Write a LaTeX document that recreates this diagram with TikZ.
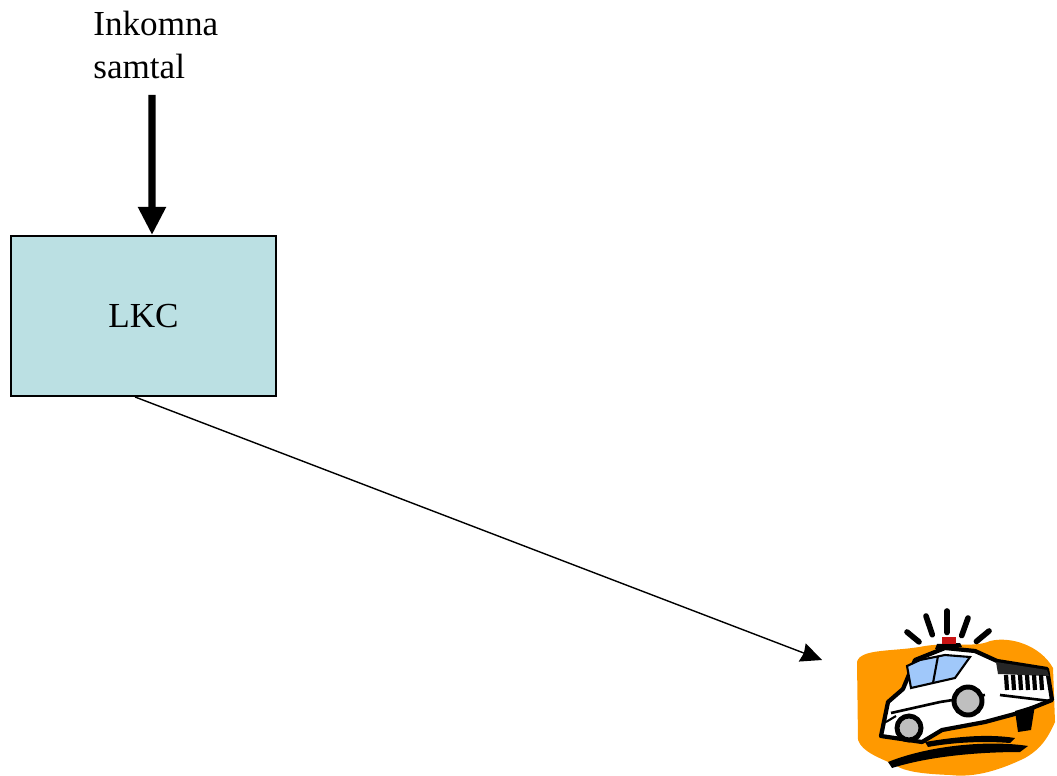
\documentclass[tikz,border=0pt]{standalone}
\usepackage{fontspec}
\setmainfont{Liberation Serif}
\usetikzlibrary{arrows.meta}
\definecolor{boxBlue}{RGB}{187,224,227}
\definecolor{blobOrange}{RGB}{255,153,0}
\definecolor{glassBlue}{RGB}{160,200,250}
\definecolor{sirenRed}{RGB}{200,20,20}

\begin{document}
\begin{tikzpicture}[
  x=0.02cm, y=-0.02cm,
  every node/.style={font=\fontsize{20}{24.4}\selectfont},
  box/.style={draw, line width=1.1pt, fill=boxBlue, minimum width=265*0.02cm,
              minimum height=160*0.02cm, inner sep=0pt},
  callarrow/.style={line width=4pt, -{Triangle[width=15pt,length=16pt]}},
  sendarrow/.style={line width=0.8pt, -{Stealth[length=12pt,width=11pt,inset=1pt]}},
  ink/.style={fill=black},
  ray/.style={line width=3.2pt, line cap=round},
]
  \useasboundingbox (0,0) rectangle (1057,776);

  \node[anchor=north west, align=left, inner sep=0pt] (calls) at (93,11)
    {Inkomna\\samtal};
  \coordinate (callin) at (152,95);
  \node[box] (lkc) at (143.5,316) {LKC};
  \coordinate (car) at (822,660);

  \draw[callarrow] (callin) -- ([xshift=8.5*0.02cm]lkc.north);
  \draw[sendarrow] ([xshift=-8.5*0.02cm]lkc.south) -- (car);

  % police car clipart
  \fill[blobOrange] (857,662) .. controls (860,648) and (895,652) .. (925,646)
    .. controls (950,642) and (975,648) .. (990,641)
    .. controls (1010,636) and (1040,645) .. (1053,668)
    -- (1055,722) .. controls (1045,745) and (1035,752) .. (1025,758)
    .. controls (1000,770) and (975,778) .. (950,775)
    .. controls (925,774) and (905,772) .. (895,765)
    .. controls (880,758) and (862,752) .. (858,740) -- cycle;
  \foreach \a/\b in {907/632, 926/616, 947/611, 968/618, 989/631}{
    \draw[ray] (\a,\b) -- ++({(947-\a)*0.3},{(650-\b)*0.55});
  }
  % shadow
  \fill[ink] (888,762) .. controls (930,745) and (990,740) .. (1028,746)
    -- (1020,752) .. controls (980,752) and (930,756) .. (892,768) -- cycle;
  \fill[ink] (925,742) .. controls (960,736) and (990,734) .. (1015,738)
    -- (1010,743) .. controls (985,741) and (955,742) .. (928,747) -- cycle;
  % body
  \filldraw[fill=white, line width=2.4pt, line join=round]
    (881,736) -- (888,702) -- (903,689) -- (915,660) -- (945,648)
    -- (975,651) -- (997,661) -- (1047,669) -- (1052,700)
    -- (1022,712) -- (985,722) -- (942,730) -- (922,742) -- cycle;
  \fill[black!85] (996,662) -- (1047,670) -- (1049,676) -- (998,674) -- cycle;
  % windows
  \filldraw[fill=glassBlue, line width=1.2pt]
    (907,666) -- (920,660) -- (945,655) -- (970,657) -- (955,678) -- (911,688) -- cycle;
  \draw[line width=1.2pt] (938,656) -- (933,683);
  % grille
  \foreach \g in {1006,1013,1020,1027,1034,1041}{
    \draw[line width=2.4pt] (\g,675) -- (\g+1,690);
  }
  \draw[line width=1.5pt] (1000,695) -- (1050,701);
  % siren
  \fill[black] (935,649) -- (962,647) -- (960,643) -- (937,644) -- cycle;
  \fill[sirenRed] (942,644) rectangle (956,637);
  % wheels and side lines
  \draw[line width=1.5pt] (891,713) -- (940,702) -- (985,695);
  \draw[line width=1.2pt] (886,722) -- (896,716);
  \filldraw[fill=black!25, line width=2.8pt] (909,728) circle (12);
  \filldraw[fill=black!25, line width=2.8pt] (968,701) circle (14);
  \fill[black] (1015,711) -- (1035,705) -- (1031,730) -- (1018,732) -- cycle;
\end{tikzpicture}
\end{document}
